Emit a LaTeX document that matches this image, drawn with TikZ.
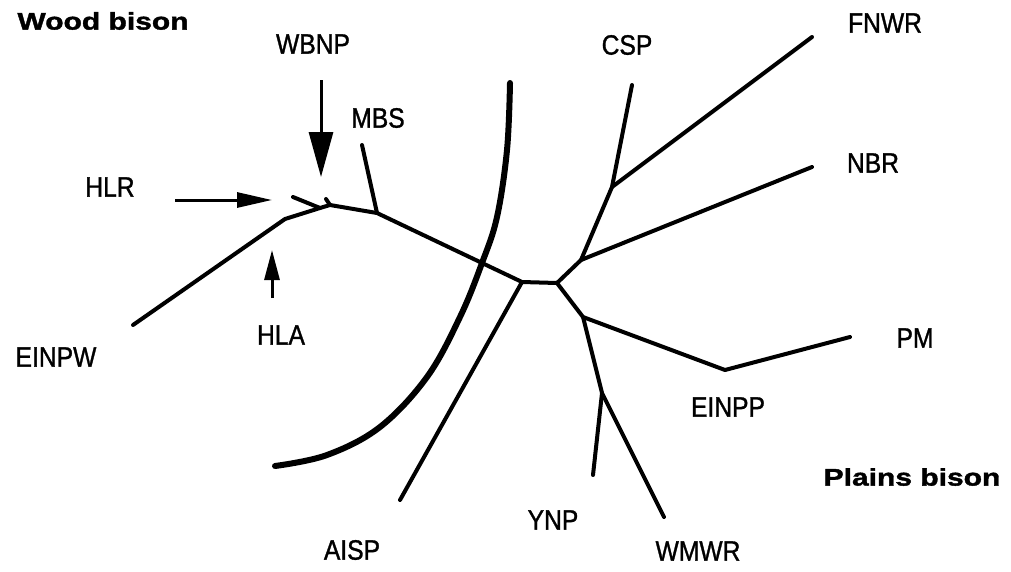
\documentclass[tikz,border=0pt]{standalone}
\usepackage{fontspec}
\setmainfont{Liberation Sans}
\newfontfamily\bisonfont[FakeStretch=1.25,FakeBold=1.6]{Liberation Sans}
\newfontfamily\labfont[FakeStretch=0.88,FakeBold=1.1]{Liberation Sans}
\usetikzlibrary{arrows.meta}
\tikzset{
  lab/.style={inner sep=0pt, font=\labfont\fontsize{28}{32}\selectfont},
  grp/.style={inner sep=0pt, font=\bisonfont\bfseries\fontsize{24}{28}\selectfont},
  br/.style={line width=4pt, line cap=round, line join=round},
  ptr/.style={line width=3pt},
  divide/.style={line width=6pt, line cap=round}
}
\begin{document}
\begin{tikzpicture}[x=1pt,y=-1pt]
\useasboundingbox (0,0) rectangle (1011,571);
% labels
\node[grp] (wood) at (103,21) {Wood bison};
\node[grp] (plains) at (912,477) {Plains bison};
\node[lab] (wbnp) at (313,44) {WBNP};
\node[lab] (mbs) at (378,118) {MBS};
\node[lab] (hlr) at (110,187) {HLR};
\node[lab] (hla) at (281,335) {HLA};
\node[lab] (einpw) at (56,357) {EINPW};
\node[lab] (csp) at (627,45) {CSP};
\node[lab] (fnwr) at (885,23) {FNWR};
\node[lab] (nbr) at (873,163) {NBR};
\node[lab] (pm) at (915,338) {PM};
\node[lab] (einpp) at (728,407) {EINPP};
\node[lab] (aisp) at (352,550) {AISP};
\node[lab] (ynp) at (553,520) {YNP};
\node[lab] (wmwr) at (698,551) {WMWR};
% tree coordinates
\coordinate (lEINPW) at (133,325);
\coordinate (n1) at (285,219);
\coordinate (n2) at (320,208);
\coordinate (lHLR) at (293,197);
\coordinate (n3) at (330,205);
\coordinate (lWB) at (326,199);
\coordinate (n4) at (377,213);
\coordinate (lMBS) at (362,145);
\coordinate (n5) at (522,282);
\coordinate (lAISP) at (400,500);
\coordinate (n6) at (557,283);
\coordinate (n7) at (581,260);
\coordinate (lNBR) at (812,167);
\coordinate (n8) at (612,187);
\coordinate (lFNWR) at (812,37);
\coordinate (lCSP) at (632,85);
\coordinate (n9) at (583,317);
\coordinate (n10) at (725,370);
\coordinate (lPM) at (850,337);
\coordinate (n11) at (602,393);
\coordinate (lYNP) at (593,475);
\coordinate (lWMWR) at (664,517);
% tree
\draw[br] (lEINPW) -- (n1) -- (n2) -- (n3) -- (n4) -- (n5) -- (n6) -- (n7) -- (n8) -- (lCSP);
\draw[br] (lHLR) -- (n2);
\draw[br] (lWB) -- (n3);
\draw[br] (lMBS) -- (n4);
\draw[br] (n5) -- (lAISP);
\draw[br] (n7) -- (lNBR);
\draw[br] (n8) -- (lFNWR);
\draw[br] (n6) -- (n9) -- (n10) -- (lPM);
\draw[br] (n9) -- (n11) -- (lYNP);
\draw[br] (n11) -- (lWMWR);
% arrows
\coordinate (hlrA) at (175,200);
\coordinate (hlrB) at (272,200);
\coordinate (wbA) at (321,80);
\coordinate (wbB) at (321,177);
\coordinate (hlaA) at (272,298);
\coordinate (hlaB) at (272,250);
\draw[ptr, -{Triangle[length=35pt,width=15pt]}] (hlrA) -- (hlrB);
\draw[ptr, -{Triangle[length=45pt,width=24pt]}] (wbA) -- (wbB);
\draw[ptr, -{Triangle[length=30pt,width=15pt]}] (hlaA) -- (hlaB);
% dividing curve
\draw[divide] plot[smooth, tension=0.6] coordinates {(510,83) (507,150) (497,217) (482,263) (460,317) (427,377) (380,427) (327,455) (275,466)};
\end{tikzpicture}
\end{document}
